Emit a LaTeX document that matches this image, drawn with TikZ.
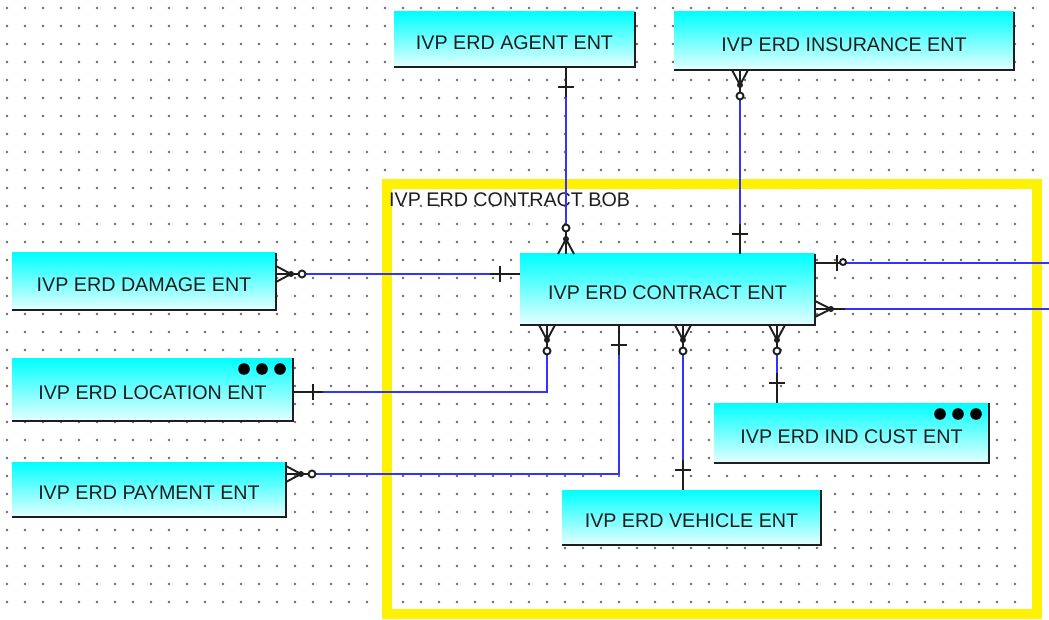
\documentclass[tikz,border=0pt]{standalone}
\usepackage{fontspec}
\setmainfont{Liberation Sans}
\usetikzlibrary{calc}
\definecolor{connblue}{RGB}{51,51,255}
\definecolor{griddot}{RGB}{105,105,105}
\definecolor{edgedark}{RGB}{30,30,30}
\tikzset{
  entity/.style={anchor=north west, inner sep=0pt, outer sep=0pt,
    top color=cyan, bottom color=white!90!cyan, draw=none,
    font=\fontsize{19.7}{22}\selectfont, text=edgedark, text height=20.1pt, text depth=0pt},
  edgeline/.style={draw=edgedark, line width=2.2pt},
  conn/.style={draw=connblue, line width=2.4pt},
  endline/.style={draw=edgedark, line width=1.9pt},
  endone/.pic={\draw[endline] (0,0)--(30,0); \draw[endline] (20,-8)--(20,8);},
  endzmany/.pic={\draw[endline] (0,0)--(30,0);
    \draw[endline] (0,-8)--(15,0) (0,8)--(15,0);
    \fill[edgedark] (15,0) circle[radius=3];
    \draw[endline, fill=white] (26,0) circle[radius=3.5];},
  endmany/.pic={\draw[endline] (0,0)--(30,0);
    \draw[endline] (0,-8)--(16,0) (0,8)--(16,0);
    \fill[edgedark] (16,0) circle[radius=3];},
  endzone/.pic={\draw[endline] (0,0)--(30,0); \draw[endline] (22,-8)--(22,8);
    \draw[endline, fill=white] (28,-1) circle[radius=3];},
}
\begin{document}
\begin{tikzpicture}[x=1pt, y=-1pt]
\useasboundingbox (0,0) rectangle (1049,620);
\fill[white] (0,0) rectangle (1049,620);
% grid of dots
\foreach \i in {0,...,57}{
  \foreach \j in {0,...,33}{
    \fill[griddot] ({7+18*\i},{8+18*\j}) circle[radius=1.4];
  }
}
% subject area
\node[draw=yellow, line width=10pt, minimum width=650pt, minimum height=430pt,
  anchor=north west, inner sep=0pt, outer sep=0pt] (bob) at (387,184) {};
\node[anchor=base west, inner sep=0pt, font=\fontsize{19.7}{22}\selectfont, text=edgedark]
  (bobtitle) at (389,207) {IVP ERD CONTRACT BOB};
% entities
\node[entity, minimum width=241pt, minimum height=55pt] (agent) at (394,12) {IVP ERD AGENT ENT};
\node[entity, minimum width=340pt, minimum height=58pt] (insurance) at (674,12) {IVP ERD INSURANCE ENT};
\node[entity, minimum width=264pt, minimum height=57pt] (damage) at (12,253) {IVP ERD DAMAGE ENT};
\node[entity, minimum width=295pt, minimum height=71pt] (contract) at (520,254) {IVP ERD CONTRACT ENT};
\node[entity, minimum width=281pt, minimum height=63pt] (location) at (12,358) {IVP ERD LOCATION ENT};
\node[entity, minimum width=274pt, minimum height=55pt] (payment) at (12,462) {IVP ERD PAYMENT ENT};
\node[entity, minimum width=275pt, minimum height=60pt] (indcust) at (714,403) {IVP ERD IND CUST ENT};
\node[entity, minimum width=259pt, minimum height=55pt] (vehicle) at (562,490) {IVP ERD VEHICLE ENT};
\foreach \n in {agent,insurance,damage,contract,location,payment,indcust,vehicle}{
  \draw[edgeline] (\n.north east) -- (\n.south east) -- (\n.south west);
}
% three-dot markers
\foreach \n in {location,indcust}{
  \foreach \dx in {-13,-31,-49}{
    \fill[black] ($(\n.north east)+(\dx,11)$) circle[radius=5.8];
  }
}
% routing coordinates
\coordinate (x1) at (566,0);
\coordinate (x2) at (740,0);
\coordinate (y3) at (0,274);
\coordinate (y4) at (0,392);
\coordinate (x4) at (547,0);
\coordinate (y5) at (0,474);
\coordinate (x5) at (619,0);
\coordinate (x6) at (683,0);
\coordinate (x7) at (777,0);
\coordinate (r1) at (1049,263);
\coordinate (r2) at (1049,309);
% connectors
\draw[conn] (agent.south -| x1) -- (contract.north -| x1);
\draw[conn] (insurance.south -| x2) -- (contract.north -| x2);
\draw[conn] (damage.east |- y3) -- (contract.west |- y3);
\draw[conn] (location.east |- y4) -| (contract.south -| x4);
\draw[conn] (payment.east |- y5) -| (contract.south -| x5);
\draw[conn] (contract.south -| x6) -- (vehicle.north -| x6);
\draw[conn] (contract.south -| x7) -- (indcust.north -| x7);
\draw[conn] (contract.east |- r1) -- (r1);
\draw[conn] (contract.east |- r2) -- (r2);
% connector ends
\pic[rotate=-90] at (agent.south -| x1) {endone};
\pic[rotate=90] at (contract.north -| x1) {endzmany};
\pic[rotate=-90] at (insurance.south -| x2) {endzmany};
\pic[rotate=90] at (contract.north -| x2) {endone};
\pic at (damage.east |- y3) {endzmany};
\pic[rotate=180] at (contract.west |- y3) {endone};
\pic at (location.east |- y4) {endone};
\pic[rotate=-90] at (contract.south -| x4) {endzmany};
\pic at (payment.east |- y5) {endzmany};
\pic[rotate=-90] at (contract.south -| x5) {endone};
\pic[rotate=-90] at (contract.south -| x6) {endzmany};
\pic[rotate=90] at (vehicle.north -| x6) {endone};
\pic[rotate=-90] at (contract.south -| x7) {endzmany};
\pic[rotate=90] at (indcust.north -| x7) {endone};
\pic at (contract.east |- r1) {endzone};
\pic at (contract.east |- r2) {endmany};
\end{tikzpicture}
\end{document}
